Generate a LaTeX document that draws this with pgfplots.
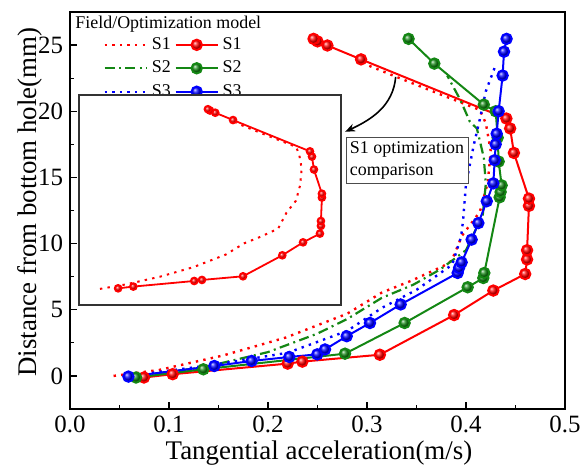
\documentclass[border=0pt]{standalone}
\usepackage{fontspec}
\setmainfont{Liberation Serif}
\usepackage{pgfplots}
\pgfplotsset{compat=1.18}
\usetikzlibrary{arrows.meta}
\definecolor{cred}{RGB}{255,0,0}
\definecolor{cgreen}{RGB}{20,135,20}
\definecolor{cblue}{RGB}{0,0,255}
\tikzset{
  rdot/.style={cred, line width=1.2bp, dash pattern=on 1.2bp off 2.6bp},
  gdash/.style={cgreen, line width=1.1bp, dash pattern=on 5bp off 2.2bp on 1bp off 2.2bp},
  bdot/.style={cblue, line width=1.2bp, dash pattern=on 1.2bp off 2.6bp},
}
\begin{document}
\begin{tikzpicture}
\begin{axis}[
  name=ax, scale only axis, width=247.5bp, height=198.5bp,
  xmin=0, xmax=0.5, ymin=-2.5, ymax=27.5,
  xtick={0,0.1,0.2,0.3,0.4,0.5}, minor xtick={0.05,0.15,0.25,0.35,0.45},
  ytick={0,5,10,15,20,25}, minor ytick={2.5,7.5,12.5,17.5,22.5},
  tick align=inside, xtick pos=left, ytick pos=left,
  major tick length=3.5bp, minor tick length=2bp,
  every tick/.style={black, line width=0.6bp},
  axis line style={line width=0.7bp},
  /pgf/number format/assume math mode=true,
  xticklabel style={/pgf/number format/fixed, /pgf/number format/fixed zerofill, /pgf/number format/precision=1},
  ticklabel style={font=\fontsize{12.5}{14}\selectfont},
  xlabel={Tangential acceleration(m/s)},
  ylabel={Distance from bottom hole(mm)},
  label style={font=\fontsize{13.5}{16}\selectfont},
  xlabel style={at={(axis description cs:0.503,0)}, anchor=center, yshift=-22bp},
  ylabel style={at={(axis description cs:-0.081,0.521)}, anchor=center},
  legend columns=2,
  legend cell align=left,
  legend image code/.code={\draw[mark repeat=2,mark phase=2,#1] plot coordinates {(0bp,0bp)(10.5bp,0bp)(21bp,0bp)};},
  legend style={at={(rel axis cs:0.0667,0.947)}, anchor=north west, draw=none, fill=none, inner sep=0pt,
    font=\fontsize{9}{11}\selectfont, row sep=0.3bp},
]
% S1
\addplot[rdot] coordinates {
(0.044,0.0)(0.09,0.45)(0.155,1.55)(0.218,2.9)(0.28,4.7)(0.315,6.3)(0.345,7.2)(0.377,8.3)(0.3855,8.7)(0.396,10.6)(0.414,12.4)(0.422,14.6)(0.425,17.0)(0.420,19.1)(0.414,20.1)(0.38,21.1)(0.333,22.5)(0.30,23.5)};
\addlegendentry{S1}
\addplot[cred, line width=1bp, mark=ball, mark size=2.6bp, mark options={ball color=cred}] coordinates {
(0.0747,-0.12)(0.1037,0.13)(0.2199,0.93)(0.2347,1.08)(0.313,1.6)(0.388,4.6)(0.4276,6.45)(0.4598,7.7)(0.4617,8.8)(0.4617,9.5)(0.4636,12.85)(0.4636,13.4)(0.4484,16.85)(0.4446,18.7)(0.4408,19.45)(0.294,23.92)(0.260,24.97)(0.250,25.28)(0.246,25.47)};
\addlegendentry{S1}
% S2
\addplot[gdash] coordinates {
(0.068,0.0)(0.135,0.65)(0.20,1.8)(0.25,3.2)(0.28,4.3)(0.315,5.9)(0.347,6.9)(0.374,8.05)(0.40,9.5)(0.417,12.2)(0.42,14.5)(0.418,16.5)(0.411,18.7)(0.404,19.2)(0.394,20.9)(0.381,22.7)};
\addlegendentry{S2}
\addplot[cgreen, line width=1bp, mark=ball, mark size=2.6bp, mark options={ball color=cgreen}] coordinates {
(0.0667,-0.12)(0.1347,0.5)(0.2778,1.68)(0.338,4.0)(0.4017,6.7)(0.4175,7.4)(0.4185,7.78)(0.434,13.5)(0.435,13.9)(0.436,14.4)(0.433,16.2)(0.432,18.0)(0.43,20.0)(0.418,20.5)(0.368,23.6)(0.342,25.47)};
\addlegendentry{S2}
% S3
\addplot[bdot] coordinates {
(0.06,0.0)(0.146,0.85)(0.22,1.75)(0.28,3.4)(0.315,5.14)(0.35,6.5)(0.386,8.4)(0.395,10.5)(0.397,11.7)(0.40,14.5)(0.408,17.5)(0.414,19.4)(0.42,21.5)(0.43,23.5)};
\addlegendentry{S3}
\addplot[cblue, line width=1bp, mark=ball, mark size=2.6bp, mark options={ball color=cblue}] coordinates {
(0.059,-0.05)(0.1458,0.75)(0.1835,1.13)(0.2215,1.43)(0.2498,1.63)(0.2576,2.0)(0.2795,3.0)(0.303,4.0)(0.334,5.4)(0.3916,7.78)(0.393,8.16)(0.3956,8.58)(0.4057,10.3)(0.4125,11.55)(0.421,13.2)(0.4276,14.55)(0.429,16.3)(0.430,17.5)(0.431,18.3)(0.433,20.0)(0.437,22.7)(0.4384,24.5)(0.441,25.47)};
\addlegendentry{S3}
\node[anchor=north west, inner sep=0pt, font=\fontsize{9}{11}\selectfont] at (rel axis cs:0.0101,0.992) {Field/Optimization model};
\draw[-{Stealth[length=5bp,width=4bp]}, line width=0.8bp] (axis cs:0.329,22.6) to[out=-95, in=25] (axis cs:0.278,18.45);
\node[draw=black!70, fill=white, align=left, font=\fontsize{9}{11}\selectfont, inner xsep=2bp, inner ysep=2bp] at (axis cs:0.3404,16.3) {S1 optimization\\comparison};
\end{axis}
\begin{axis}[at={(ax.south west)}, anchor=south west, xshift=4.5bp, yshift=52bp,
  scale only axis, width=131bp, height=105bp,
  xmin=0, xmax=0.5, ymin=-2.5, ymax=27.5, ticks=none,
  axis background/.style={fill=white}, axis line style={line width=0.6bp, black!80}]
\addplot[rdot, line width=1bp] coordinates {
(0.040,-0.2)(0.09,0.45)(0.155,1.55)(0.218,2.9)(0.28,4.7)(0.315,6.3)(0.345,7.2)(0.38,8.4)(0.396,10.7)(0.414,12.4)(0.422,14.6)(0.425,17.0)(0.420,19.1)(0.414,20.1)(0.38,21.1)(0.333,22.5)(0.30,23.5)};
\addplot[cred, line width=0.9bp, mark=ball, mark size=1.7bp, mark options={ball color=cred}] coordinates {
(0.0747,-0.12)(0.1037,0.13)(0.2199,0.93)(0.2347,1.08)(0.313,1.6)(0.388,4.6)(0.4276,6.45)(0.4598,7.7)(0.4617,8.8)(0.4617,9.5)(0.4636,12.85)(0.4636,13.4)(0.4484,16.85)(0.4446,18.7)(0.4408,19.45)(0.294,23.92)(0.260,24.97)(0.250,25.28)(0.246,25.47)};
\end{axis}
\pgfresetboundingbox
\path (ax.south west) ++(-35bp,-29bp) rectangle ++(290bp,233.5bp);
\end{tikzpicture}
\end{document}
